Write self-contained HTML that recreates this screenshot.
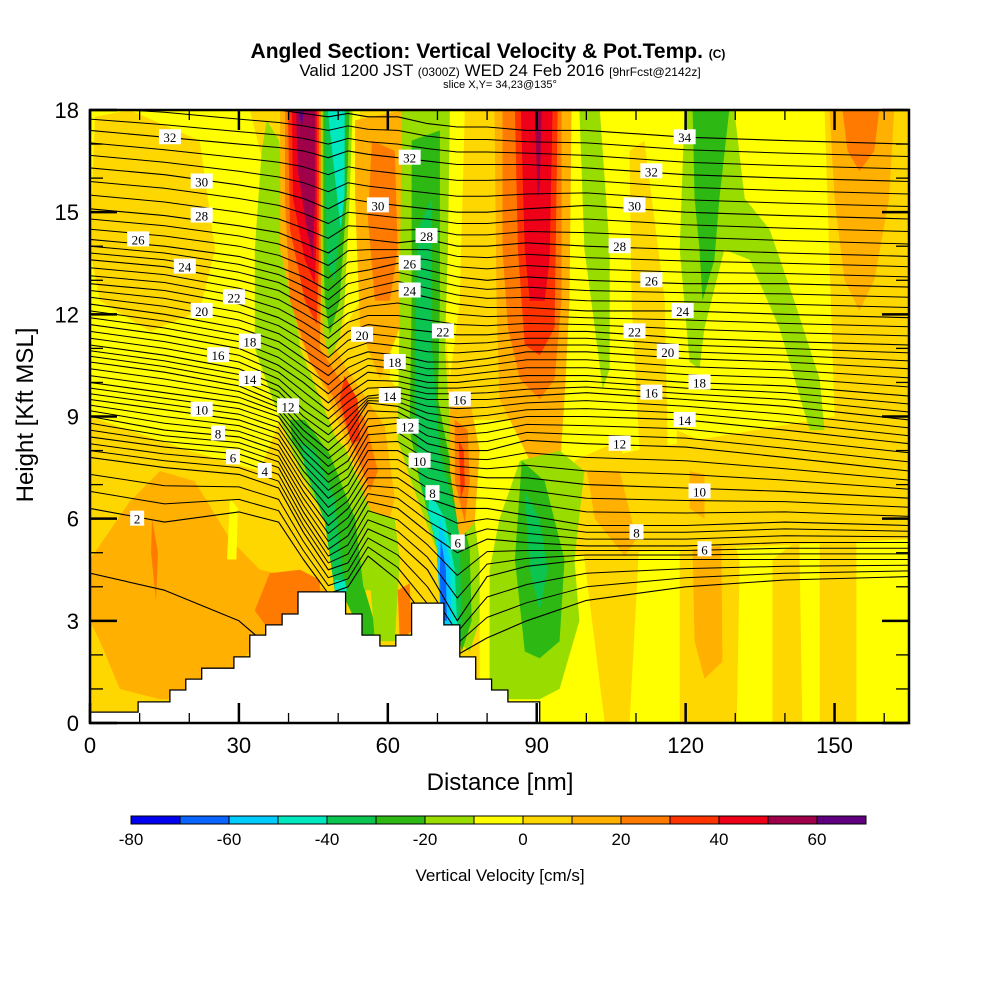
<!DOCTYPE html>
<html><head><meta charset="utf-8"><style>
html,body{margin:0;padding:0;background:#fff;}
svg{display:block;font-family:"Liberation Sans",Arial,sans-serif;}
</style></head><body>
<svg id="chart" width="1000" height="1000" viewBox="0 0 1000 1000" xmlns="http://www.w3.org/2000/svg">
<defs><clipPath id="plotclip"><rect x="90" y="110" width="819" height="613"/></clipPath></defs>
<g>
<text x="488" y="58" text-anchor="middle" font-size="21" font-weight="bold">Angled Section: Vertical Velocity &amp; Pot.Temp. <tspan font-size="12">(C)</tspan></text>
<text x="500" y="76" text-anchor="middle" font-size="17">Valid 1200 JST <tspan font-size="12">(0300Z)</tspan> WED 24 Feb 2016 <tspan font-size="12">[9hrFcst@2142z]</tspan></text>
<text x="500" y="88" text-anchor="middle" font-size="11">slice X,Y= 34,23@135°</text>
</g>
<g id="plot" clip-path="url(#plotclip)"></g>
<g id="axes"></g>
<g id="cbar"></g>
<text x="500" y="881" text-anchor="middle" font-size="17">Vertical Velocity [cm/s]</text>
<text x="500" y="790" text-anchor="middle" font-size="24">Distance [nm]</text>
<text transform="translate(33,415) rotate(-90)" text-anchor="middle" font-size="24">Height [Kft MSL]</text>
</svg>
<script>
const bandColors=["#0000f0","#0a64ff","#00ccff","#00e8c0","#0cc450","#2db814","#99dd00","#ffff00","#ffd700","#ffb000","#ff7a00","#ff3300","#ee0018","#a0004a","#600080"];
const bandEdges=[-80,-70,-60,-50,-40,-30,-20,-10,0,10,20,30,40,50,60,70];
const cbarTicks=[-80,-60,-40,-20,0,20,40,60];
const xTicks=[0,30,60,90,120,150];
const yTicks=[0,3,6,9,12,15,18];
const backgroundBand=8;
const fieldShapes=[
[7,[[0,18],[32.2,18],[39.3,13.9],[40.3,11.6],[38.3,8.9],[34.2,7.4],[20,8.0],[0,9]]],
[8,[[1,17.8],[8,18],[22.1,17.1],[25.2,13.9],[22.1,12.1],[12.1,11.5],[2,12.4],[0,13.9]]],
[9,[[0,4.8],[8,6.5],[14.1,7.4],[21.1,7.1],[28.2,5.4],[34.2,4.5],[44.3,4.2],[47.3,3.9],[47.3,3.0],[40.3,2.4],[32.2,2.1],[24.2,0.7],[14.1,0.7],[6,1.0],[2,2.4],[0,3.0]]],
[7,[[27.6,4.8],[29.5,4.8],[29.8,6.3],[28.2,6.6]]],
[10,[[12.5,6.0],[13.7,5.0],[13.3,3.6],[12.3,5.0]]],
[10,[[33.2,3.3],[36.2,4.4],[42.3,4.5],[46.3,4.2],[46.3,3.6],[42.3,3.3],[36.2,2.7]]],
[7,[[51.3,18],[54.4,18],[54.4,12.4],[51.3,11.6]]],
[7,[[61.4,18],[64.4,18],[63.4,9.5],[60.4,10.1]]],
[7,[[70.5,18],[75.5,18],[74.5,12.4],[72.5,10.1],[70.9,12.4]]],
[7,[[95,18],[148,18],[150,9],[130,8.5],[110,8],[95,7.5]]],
[8,[[108.7,16.8],[111.7,17.1],[115.8,12.4],[116.4,8.0],[110.7,8.0],[109.1,12.4]]],
[7,[[78.5,4.8],[165,5.4],[165,0],[78.5,0]]],
[7,[[76.5,8.9],[86.6,8.9],[94.6,7.4],[94.6,4.8],[78.5,3.6],[76.5,6.3]]],
[8,[[97.6,7.7],[106.7,8.3],[110.7,5.4],[108.7,0],[103.7,0],[99.6,4.8]]],
[9,[[100.1,7.4],[106.7,7.4],[110.1,5.4],[107.7,4.9],[101.7,6.0]]],
[8,[[118.2,8.6],[122.8,8.3],[130.9,4.8],[130.3,0],[118.8,0],[118.8,4.8]]],
[9,[[121.4,5.1],[127.2,5.2],[127.4,1.8],[123.8,1.3],[121.8,2.4]]],
[9,[[120.8,7.4],[123.8,7.3],[123.8,6.0],[120.8,6.3]]],
[8,[[137.5,4.8],[142.9,5.4],[143.5,0],[137.5,0]]],
[8,[[147,5.4],[154.4,6.0],[154.4,0],[147,0]]],
[6,[[35.6,17.7],[38.1,17.1],[40.3,13.9],[42.3,11.0],[47.3,9.2],[51.3,7.7],[54.4,6.0],[51.3,5.4],[46.3,6.6],[42.3,7.7],[38.3,8.9],[33.2,11.0],[33.2,13.9],[34.6,16.8]]],
[6,[[38.3,8.9],[44.3,9.1],[51.3,8.1],[57.4,6.0],[58.4,3.9],[53.4,3.9],[48.3,5.7],[42.3,7.4]]],
[5,[[40.3,8.9],[43.3,8.9],[48.3,7.9],[53.4,6.0],[55.4,3.6],[53.4,3.2],[51.3,3.9],[49.3,5.7],[44.3,7.4],[40.7,8.3]]],
[4,[[42.3,8.3],[45.3,8.0],[49.3,6.6],[51.3,3.9],[49.3,3.9],[47.3,5.9],[43.3,7.5]]],
[3,[[49.3,4.2],[51.3,4.2],[51.9,3.85],[49.3,3.85]]],
[5,[[52.3,4.8],[55.4,3.9],[58.4,2.4],[55.4,2.4],[51.5,3.6]]],
[9,[[38.3,18],[47.3,18],[47.3,13.9],[47.3,11.6],[51.3,10.5],[59.4,8.7],[61.4,6.6],[59.4,5.4],[55.4,6.6],[51.3,8.4],[46.3,10.1],[42.3,11.3],[38.3,13.9]]],
[10,[[39.3,18],[46.7,18],[46.7,13.9],[46.3,11.0],[50.3,10.1],[55.4,8.9],[58,7.4],[56.4,6.8],[53.4,8.0],[49.3,9.5],[44.3,10.6],[40.3,12.4],[39.3,15.3]]],
[11,[[39.9,18],[46.1,18],[46.1,13.6],[45.7,11.7],[43.3,12.4],[40.3,14.5]]],
[11,[[51.3,10.2],[53.9,9.5],[54.4,8.3],[52.7,8.2],[50.3,9.5]]],
[12,[[40.7,18],[45.7,18],[45.7,14.5],[45.3,12.9],[43.3,13.6],[40.9,15.4]]],
[13,[[41.5,18],[45.3,18],[45.3,15.4],[44.9,13.6],[43.7,14.5],[41.9,16.2]]],
[14,[[41.9,18],[43.1,18],[42.7,17.5]]],
[6,[[46.5,18],[52.9,18],[52.3,15.4],[51.3,12.4],[50.3,11.3],[48.3,10.7],[46.9,11.5],[46.5,13.9]]],
[5,[[47,18],[52.3,18],[51.7,15.4],[50.3,12.4],[48.3,11.4],[47.3,12.4],[47,14]]],
[4,[[47.3,18],[51.5,18],[51,15.4],[49.3,13],[47.7,13.5]]],
[3,[[47.9,18],[51.3,18],[51.3,15.5],[50.5,14.5],[49,16.5]]],
[9,[[53.4,17.7],[63.4,18],[64.4,15.4],[62.4,11.6],[58.4,10.1],[54.4,11.6],[53.4,15.4]]],
[10,[[56.8,17.1],[61.4,16.8],[62,13.9],[60.4,12.4],[57.4,12.4],[56,14.8]]],
[6,[[54.4,6.3],[61.4,6.0],[62.4,4.8],[61.4,2.4],[57.4,2.4],[56.4,4.2]]],
[10,[[62,3.9],[64.4,4.1],[64.8,2.7],[62.4,2.4]]],
[6,[[62.8,18],[72.5,18],[72.1,13.9],[71.5,11],[72.5,8.9],[76.5,7.1],[78.5,4.8],[78.5,3.0],[76.5,2.1],[74.1,2.4],[70.5,4.8],[65.4,6.8],[62,8.3],[62.4,12.4]]],
[5,[[64.8,17.1],[70.5,17.4],[70.5,12.4],[70.1,9.5],[72.5,7.7],[76.5,5.1],[76.9,3.0],[74.9,2.1],[71.5,4.8],[66.4,7.1],[64.4,8.6],[64.8,12.4]]],
[4,[[66,14.5],[68.9,15.4],[68.9,11],[70.5,8.0],[74.5,5.6],[74.9,2.4],[72.9,2.4],[70.5,4.8],[66.4,7.1],[65.4,9.5]]],
[3,[[68.5,6.8],[71.5,6.0],[73.5,4.5],[74.1,2.4],[71.5,2.4],[70.5,4.8],[68.1,6.2]]],
[2,[[70.5,6.0],[72.5,4.8],[72.9,2.7],[70.9,2.7],[69.9,4.8]]],
[1,[[70.7,5.4],[71.7,4.5],[71.9,3.0],[70.7,3.0],[70.5,4.5]]],
[9,[[72.5,9.8],[76.5,9.5],[78.5,8.0],[77.5,5.9],[74.5,5.4],[72.5,7.4]]],
[10,[[73.5,8.9],[76.1,8.6],[76.5,7.1],[75.5,5.9],[73.5,7.1]]],
[11,[[74.3,8.3],[75.3,8.0],[75.5,7.0],[74.7,6.6]]],
[9,[[81.5,18],[97,18],[96.6,12.4],[95.6,9.5],[94.6,7.4],[90.6,7.1],[86.6,8.3],[82.5,9.5],[81.9,12.4]]],
[10,[[83.1,18],[95,18],[95,12.4],[93.6,10.1],[90.6,9.5],[86.6,10.1],[84.2,11.6],[83.1,13.9]]],
[11,[[85.6,18],[94.2,18],[93.6,11.6],[90.6,10.8],[87.6,11.1],[86.2,13.9]]],
[12,[[86.8,18],[93.2,18],[92.6,13.6],[91.6,12.4],[88.6,12.4],[87.6,13.9]]],
[13,[[89.6,18],[91,18],[90.6,15.7],[90.2,15.4]]],
[6,[[98.6,18],[102.7,18],[104.7,13.9],[104.7,10.4],[103.3,9.8],[101.7,11.6],[99.6,13.9]]],
[6,[[120.8,18],[129.8,18],[131.9,15.4],[136.9,14.5],[141.9,12.4],[147,10.1],[148,8.6],[145,8.6],[138.9,11.6],[132.9,13.6],[127.8,13.9],[123.8,11.6],[122.8,10.4],[120.8,10.6],[118.8,13.9],[119.8,18]]],
[5,[[121.4,18],[128.8,18],[126.8,15.4],[125.8,13.6],[123.4,12.4],[122.8,13.9],[121.8,15.4]]],
[9,[[149,18],[162,18],[161,15.4],[158,13],[155,12.1],[152,13],[150,15.4]]],
[10,[[151.6,18],[159,18],[158,16.8],[155,16.2],[152.6,16.8]]],
[6,[[94.6,8.0],[99.6,7.4],[97.6,4.8],[98.6,3.0],[94.6,1.0],[90.6,0.7],[84.2,0.7],[80.5,1.0],[80.5,4.5],[82.5,6.0],[86.6,7.7]]],
[5,[[87,7.7],[91.6,7.1],[95.6,4.8],[94.6,2.4],[90.6,1.9],[87.6,2.1],[85.6,4.8]]],
[4,[[87.6,6.8],[90.6,6.0],[92.2,4.5],[90.6,3.3],[88.6,4.5]]]
];
const stationsNm=[0,15,30,38,43,48,52,56,62,68,74,80,88,100,120,140,165];
const thetaLevels=[1,2,4,6,8,10,12,14,16,18,20,22,24,26,28,30,32,34];
const thetaHeights=[
[4.4,3.9,3.0,2.0,1.0,0,-1,-1,-1,-1,-1,-1,-1,-1,-1,-1,-1],
[6.3,5.9,6.2,5.9,4.8,3.8,4.0,4.9,4.2,3.0,2.0,2.5,3.0,3.6,4.0,4.2,4.3],
[7.8,7.5,7.3,6.9,5.6,4.5,4.7,5.7,5.3,4.5,3.0,4.3,4.6,4.8,4.8,4.8,4.8],
[8.4,8.1,7.9,7.5,6.2,5.1,5.5,6.5,6.3,5.6,5.0,5.4,5.3,5.2,5.2,5.3,5.3],
[9.0,8.6,8.4,8.0,6.8,5.8,6.3,7.2,7.2,6.6,6.3,6.3,6.1,5.8,5.8,5.9,5.8],
[9.5,9.2,8.9,8.5,7.4,6.6,7.0,8.0,8.0,7.5,7.3,7.2,7.2,7.0,6.9,6.8,6.6],
[10.0,9.7,9.4,9.0,8.0,7.3,7.7,8.7,8.8,8.2,8.0,8.0,8.3,8.2,8.1,7.8,7.4],
[10.6,10.3,9.9,9.4,8.6,8.0,8.5,9.4,9.3,8.9,8.7,8.8,9.0,9.0,8.9,8.6,8.2],
[11.1,10.8,10.4,9.9,9.2,8.7,9.2,9.6,9.7,9.5,9.5,9.5,9.6,9.7,9.5,9.3,8.9],
[11.7,11.4,11.0,10.5,10.0,9.4,9.9,10.3,10.2,10.0,10.0,10.1,10.2,10.2,10.0,9.9,9.6],
[12.3,12.0,11.6,11.2,10.7,10.2,10.7,10.9,10.8,10.6,10.6,10.7,10.9,10.9,10.7,10.6,10.4],
[12.9,12.7,12.3,11.9,11.5,11.0,11.5,11.7,11.6,11.5,11.4,11.4,11.5,11.5,11.3,11.2,11.1],
[13.6,13.4,13.0,12.7,12.3,11.9,12.3,12.5,12.7,12.5,12.3,12.2,12.2,12.1,12.1,12.0,11.9],
[14.2,14.0,13.7,13.4,13.1,12.7,13.2,13.3,13.5,13.3,13.1,13.0,13.1,13.0,12.9,12.9,12.8],
[15.1,14.9,14.6,14.4,14.1,13.8,14.2,14.2,14.1,14.2,14.0,14.0,14.1,14.0,13.9,13.8,13.7],
[16.3,16.1,15.8,15.6,15.4,15.1,15.4,15.3,15.2,15.1,15.0,15.0,15.1,15.2,15.0,14.9,14.8],
[17.4,17.2,17.0,16.9,16.8,16.6,16.8,16.7,16.6,16.5,16.4,16.4,16.4,16.3,16.1,16.0,15.9],
[18.4,18.3,18.1,18.0,17.9,17.8,17.9,17.8,17.8,17.6,17.5,17.5,17.4,17.4,17.2,17.1,17.0]
];
const labelLevels=[32,30,28,26,24,22,20,18,16,14,12,10,8,6,4,2,32,30,28,26,24,22,20,18,14,16,12,10,8,6,34,32,30,28,26,24,22,20,18,16,14,12,10,8,6];
const labelNm=[16.1,22.5,22.5,9.7,19.1,29,22.5,32.2,25.8,32.2,39.9,22.5,25.8,28.8,35.2,9.5,64.4,58,67.8,64.4,64.4,71.1,54.8,61.4,60.4,74.5,64,66.4,69,74.1,119.8,113.1,109.7,106.7,113.1,119.4,109.7,116.4,122.8,113.1,119.8,106.7,122.8,110.1,123.8];
const labelKft=[17.2,15.9,14.9,14.2,13.4,12.5,12.1,11.2,10.8,10.1,9.3,9.2,8.5,7.8,7.4,6.0,16.6,15.2,14.3,13.5,12.7,11.5,11.4,10.6,9.6,9.5,8.7,7.7,6.75,5.3,17.2,16.2,15.2,14.0,13.0,12.1,11.5,10.9,10.0,9.7,8.9,8.2,6.8,5.6,5.1];
const terrainStartNm=[0,9.7,16.1,19.3,22.5,29,32.2,35.4,38.7,41.9,51.5,54.8,58.4,61.6,64.8,71.3,74.5,77.7,80.9,84.2,90.6];
const terrainKft=[0.32,0.62,0.97,1.29,1.61,1.94,2.58,2.88,3.2,3.85,3.2,2.58,2.26,2.58,3.52,2.88,1.94,1.29,0.97,0.62,0];

const NS="http://www.w3.org/2000/svg";
const X0=90,X1=909,Y0=723,Y1=110,XMAX=165,YMAX=18;
function X(v){return X0+v*(X1-X0)/XMAX;}
function Y(v){return Y0-v*(Y0-Y1)/YMAX;}
function CB(v){return 131+(v-bandEdges[0])*4.9;}
function mk(tag,attrs,parent){const e=document.createElementNS(NS,tag);for(const k in attrs)e.setAttribute(k,attrs[k]);parent.appendChild(e);return e;}
const plot=document.getElementById('plot');
const axes=document.getElementById('axes');
const cbar=document.getElementById('cbar');

const bg=mk('rect',{x:X(0),y:Y(YMAX),width:X(XMAX)-X(0),height:Y(0)-Y(YMAX),fill:bandColors[backgroundBand]},plot);


fieldShapes.forEach(function(s,i){
  const pts=s[1].map(p=>X(p[0]).toFixed(1)+','+Y(p[1]).toFixed(1)).join(' ');
  const p=mk('polygon',{points:pts,fill:bandColors[s[0]]},plot);
  
  
});
function linePath(h){
  let d='';
  for(let i=0;i<stationsNm.length;i++){d+=(i?'L':'M')+X(stationsNm[i]).toFixed(1)+' '+Y(h[i]).toFixed(1);}
  return d;
}
for(let li=0;li<thetaLevels.length;li++){
  const h=thetaHeights[li];
  const c=mk('path',{d:linePath(h),fill:'none',stroke:'#000','stroke-width':1.1,'stroke-linejoin':'round'},plot);
  
  
  if(li>=1 && li<thetaLevels.length-1){
    const h2=thetaHeights[li+1];
    [1/3,2/3].forEach(function(f){
      const hm=h.map((v,k)=>v+(h2[k]-v)*f);
      const c2=mk('path',{d:linePath(hm),fill:'none',stroke:'#000','stroke-width':1,'stroke-linejoin':'round'},plot);
      
      
    });
  }
}
let td='M'+X(0)+' '+Y(0);
for(let i=0;i<terrainStartNm.length;i++){
  const xe=i<terrainStartNm.length-1?terrainStartNm[i+1]:XMAX;
  td+='L'+X(terrainStartNm[i]).toFixed(1)+' '+Y(terrainKft[i]).toFixed(1)+'L'+X(xe).toFixed(1)+' '+Y(terrainKft[i]).toFixed(1);
}
td+='L'+X(XMAX)+' '+Y(0)+'Z';
const terr=mk('path',{d:td,fill:'#fff',stroke:'#000','stroke-width':1.3},plot);


for(let i=0;i<labelLevels.length;i++){
  const g=mk('g',{},plot);
  
  
  const cx=X(labelNm[i]),cy=Y(labelKft[i]);
  const w=String(labelLevels[i]).length>1?22:14;
  mk('rect',{x:cx-w/2,y:cy-8,width:w,height:15,fill:'#fff'},g);
  const t=mk('text',{x:cx,y:cy+5,'text-anchor':'middle','font-size':13,'font-family':'"Liberation Serif",serif'},g);
  t.textContent=labelLevels[i];
}
const fr=mk('rect',{x:X0,y:Y1,width:X1-X0,height:Y0-Y1,fill:'none',stroke:'#000','stroke-width':2.5},axes);


for(let v=0;v<=XMAX;v+=10){
  const L=(v%30===0)?20:10;
  const t1=mk('line',{x1:X(v),x2:X(v),y1:Y0,y2:Y0-L,stroke:'#000','stroke-width':v%30===0?2.5:1.3},axes);
  
  
  const t2=mk('line',{x1:X(v),x2:X(v),y1:Y1,y2:Y1+L,stroke:'#000','stroke-width':v%30===0?2.5:1.3},axes);
  
  
}
for(let v=0;v<=YMAX;v+=1){
  const L=(v%3===0)?27:13;
  const t1=mk('line',{x1:X0,x2:X0+L,y1:Y(v),y2:Y(v),stroke:'#000','stroke-width':v%3===0?2.5:1.3},axes);
  
  
  const t2=mk('line',{x1:X1,x2:X1-L,y1:Y(v),y2:Y(v),stroke:'#000','stroke-width':v%3===0?2.5:1.3},axes);
  
  
}
xTicks.forEach(function(v){
  const t=mk('text',{x:X(v),y:753,'text-anchor':'middle','font-size':22},axes);
  
  
  t.textContent=v;
});
yTicks.forEach(function(v){
  const t=mk('text',{x:79,y:Y(v)+8,'text-anchor':'end','font-size':22},axes);
  
  
  t.textContent=v;
});
for(let i=0;i<bandColors.length;i++){
  const r=mk('rect',{x:CB(bandEdges[i]),y:816,width:CB(bandEdges[i+1])-CB(bandEdges[i]),height:8,fill:bandColors[i],stroke:'#000','stroke-width':1},cbar);
  
  
}
cbarTicks.forEach(function(v){
  const t=mk('text',{x:CB(v),y:845,'text-anchor':'middle','font-size':17},cbar);
  
  
  t.textContent=v;
});
</script>
</body></html>
